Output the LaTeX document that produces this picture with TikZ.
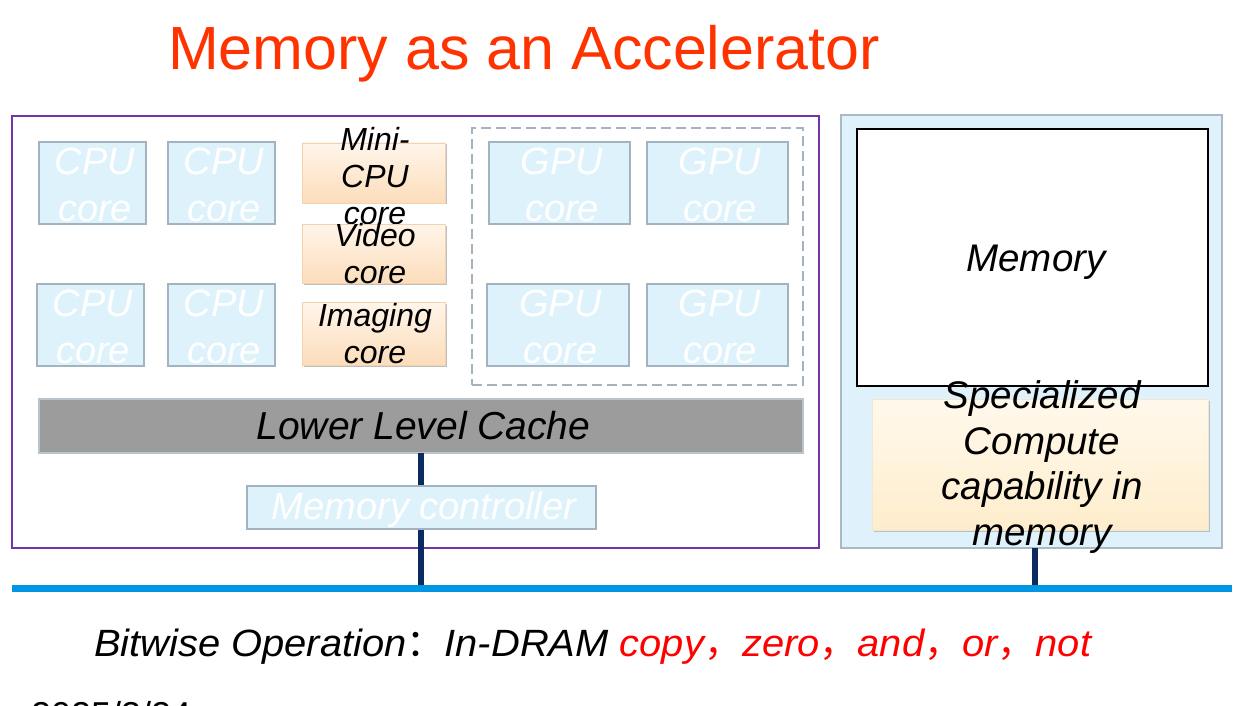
\documentclass[tikz,border=0pt]{standalone}
\usepackage{fontspec}
\setmainfont{Liberation Sans}
\newfontfamily\cjkfont{Noto Sans CJK SC}
\newfontfamily\opsfont[FakeStretch=1.05]{Liberation Sans}
\usetikzlibrary{shadows}
\definecolor{titlecol}{HTML}{FF3300}
\definecolor{purplecol}{HTML}{7433A6}
\definecolor{corefill}{HTML}{DEF2FC}
\definecolor{coreline}{HTML}{A3B4C0}
\definecolor{orA}{HTML}{FFF5EA}
\definecolor{orB}{HTML}{FCDDBB}
\definecolor{orline}{HTML}{F3D2B0}
\definecolor{spA}{HTML}{FFF9EC}
\definecolor{spB}{HTML}{FEEDCC}
\definecolor{spline}{HTML}{F6E6D0}
\definecolor{cachefill}{HTML}{9C9C9C}
\definecolor{cacheline}{HTML}{B9C5CD}
\definecolor{buscol}{HTML}{0096E6}
\definecolor{navycol}{HTML}{0C2A62}
\definecolor{rbfill}{HTML}{DFF1FB}
\definecolor{rbline}{HTML}{A8BAC6}
\definecolor{dashcol}{HTML}{A7B3BC}
\begin{document}
\begin{tikzpicture}[x=1pt,y=-1pt,
  every node/.style={inner sep=0pt, outer sep=0pt},
  core/.style={draw=coreline, fill=corefill, line width=2.5pt},
  orbox/.style={draw=orline, line width=0.8pt, top color=orA, bottom color=orB,
    drop shadow={shadow xshift=1.5pt, shadow yshift=-1.5pt, opacity=0.25, fill=black}},
  whitetxt/.style={text=white, font=\fontsize{38}{47}\selectfont\itshape, align=center},
  ortxt/.style={text=black, font=\fontsize{32}{37}\selectfont\itshape, align=center},
  bigtxt/.style={text=black, font=\fontsize{38.5}{45.5}\selectfont\itshape, align=center},
  navyline/.style={draw=navycol, line width=6pt},
]
\useasboundingbox (0,0) rectangle (1254,706);
\clip (0,0) rectangle (1254,706);

% title
\node[anchor=base, text=titlecol, font=\fontsize{61}{70}\selectfont] (title) at (524,70) {Memory as an Accelerator};

% bus
\coordinate (busL) at (12,588);
\coordinate (busR) at (1232,588);

% left chip frame
\node[draw=purplecol, line width=2.5pt, minimum width=807pt, minimum height=432pt] (chip) at (415.5,332) {};

% CPU cores
\node[core, minimum width=107pt, minimum height=82pt] (cpu1) at (92.5,183) {};
\node[core, minimum width=107pt, minimum height=82pt] (cpu2) at (221.5,183) {};
\node[core, minimum width=107pt, minimum height=82pt] (cpu3) at (90.5,325) {};
\node[core, minimum width=107pt, minimum height=82pt] (cpu4) at (221.5,325) {};
\node[whitetxt] (cpu1t) at (95,184.5) {CPU\\core};
\node[whitetxt] (cpu2t) at (224,184.5) {CPU\\core};
\node[whitetxt] (cpu3t) at (93,326.5) {CPU\\core};
\node[whitetxt] (cpu4t) at (224,326.5) {CPU\\core};

% special cores
\node[orbox, minimum width=143pt, minimum height=60pt] (mini) at (373.5,173) {};
\node[ortxt] (minit) at (375,176) {Mini-\\CPU\\core};
\node[orbox, minimum width=143pt, minimum height=59pt] (video) at (373.5,253.5) {};
\node[ortxt] (videot) at (375,253.5) {Video\\core};
\node[orbox, minimum width=143pt, minimum height=63pt] (imaging) at (373.5,333.5) {};
\node[ortxt] (imagingt) at (375,333.5) {Imaging\\core};

% GPU cluster
\node[draw=dashcol, line width=2.5pt, dash pattern=on 10pt off 5pt, minimum width=331pt, minimum height=257pt] (gpus) at (637.5,256.5) {};
\node[core, minimum width=141pt, minimum height=82pt] (gpu1) at (559.5,183) {};
\node[core, minimum width=141pt, minimum height=82pt] (gpu2) at (717.5,183) {};
\node[core, minimum width=142pt, minimum height=82pt] (gpu3) at (558,325) {};
\node[core, minimum width=141pt, minimum height=82pt] (gpu4) at (717.5,325) {};
\node[whitetxt] (gpu1t) at (562,184.5) {GPU\\core};
\node[whitetxt] (gpu2t) at (720,184.5) {GPU\\core};
\node[whitetxt] (gpu3t) at (560.5,326.5) {GPU\\core};
\node[whitetxt] (gpu4t) at (720,326.5) {GPU\\core};

% cache
\node[draw=cacheline, fill=cachefill, line width=2pt, minimum width=764pt, minimum height=54pt] (cache) at (421,426) {};
\node[bigtxt, font=\fontsize{39}{45}\selectfont\itshape] (cachet) at (423.5,426) {Lower Level Cache};

% connector cache -> bus, behind the memory controller
\draw[navyline] (cache.south) -- (cache.south |- busL);

% memory controller
\node[core, line width=2pt, minimum width=349pt, minimum height=43pt] (mc) at (421.5,507.5) {};
\node[whitetxt] (mct) at (424,510) {Memory controller};

% right memory module
\node[draw=rbline, fill=rbfill, line width=2pt, minimum width=381pt, minimum height=433pt] (rb) at (1031.5,331.5) {};
\coordinate (rbout) at (1035,548);
\draw[navyline] (rbout) -- (rbout |- busL);
\node[draw=black, fill=white, line width=2.5pt, minimum width=351pt, minimum height=257pt] (mem) at (1032.5,257.5) {};
\node[bigtxt] (memt) at (1036,262.5) {Memory};
\node[draw=spline, line width=0.8pt, top color=spA, bottom color=spB,
  drop shadow={shadow xshift=1.5pt, shadow yshift=-1.5pt, opacity=0.2, fill=black},
  minimum width=336pt, minimum height=131pt] (spec) at (1040,464.5) {};
\node[bigtxt] (spect) at (1042,467) {Specialized\\Compute\\capability in\\memory};

% bus
\draw[draw=buscol, line width=7pt] (busL) -- (busR);

% bottom line
\node[anchor=base west, font=\fontsize{38}{44}\opsfont\itshape] (ops) at (94,656)
  {Bitwise Operation{\cjkfont ：}In-DRAM \textcolor{red}{copy{\cjkfont ，}zero{\cjkfont ，}and{\cjkfont ，}or{\cjkfont ，}not}};

% date (cut off by the page edge)
\node[anchor=base west, font=\fontsize{36}{40}\selectfont] (date) at (31,727) {2025/3/24};
\end{tikzpicture}
\end{document}
